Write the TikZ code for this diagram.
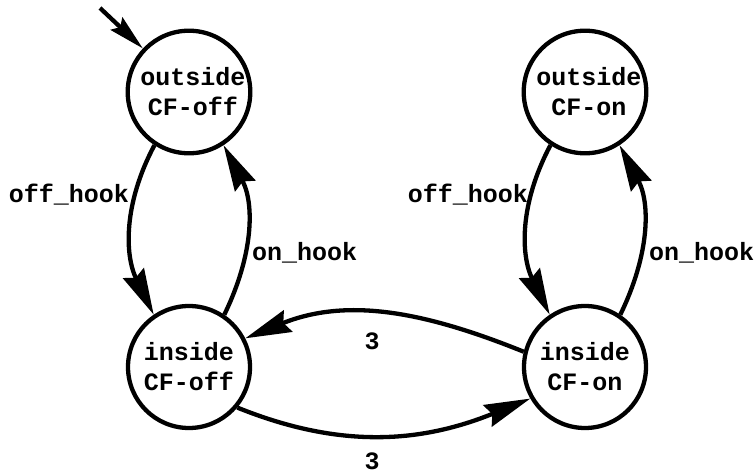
\documentclass[tikz,border=0pt]{standalone}
\usepackage{fontspec}
\setmainfont{Liberation Mono}
\usetikzlibrary{arrows.meta}
\newcommand\automfont{\bfseries\fontsize{25}{30}\selectfont}
\begin{document}
\begin{tikzpicture}[x=1pt,y=1pt,
  state/.style={circle,draw,line width=4.3pt,minimum size=122pt,inner sep=0pt,
                align=center,font=\automfont},
  trans/.style={line width=4.3pt,-{Stealth[length=46pt,width=23pt,inset=5pt]}},
  lbl/.style={inner sep=0pt,font=\automfont}]
\useasboundingbox (0,0) rectangle (755,-473);

% states
\node[state] (o1) at (189,-92)  {\hspace*{8pt}outside\\\hspace*{8pt}CF-off};
\node[state] (o2) at (585,-92)  {\hspace*{8pt}outside\\\hspace*{8pt}CF-on};
\node[state] (i1) at (189,-367) {inside\\CF-off};
\node[state] (i2) at (585,-367) {inside\\CF-on};

% initial state marker
\coordinate (init) at (100,-8);
\draw[trans,-{Stealth[length=36pt,width=17pt,inset=5pt]}] (init) -- (o1);

% hook transitions, CF off
\draw[trans] (o1.237) to[out=242,in=116] (i1.124);
\draw[trans] (i1.56) to[out=64,in=-62] (o1.303);

% hook transitions, CF on
\draw[trans] (o2.237) to[out=242,in=116] (i2.124);
\draw[trans] (i2.56) to[out=64,in=-62] (o2.303);

% feature-code transitions
\draw[trans] (i1.-40) to[out=-22,in=202] (i2.210);
\draw[trans] (i2.166) to[out=158,in=22] (i1.27);

% labels
\node[lbl,anchor=base east] (l1) at (129,-203) {off\_hook};
\node[lbl,anchor=base west] (l2) at (252,-261) {on\_hook};
\node[lbl,anchor=base east] (l3) at (528,-203) {off\_hook};
\node[lbl,anchor=base west] (l4) at (649,-261) {on\_hook};
\node[lbl,anchor=base] (l5) at (372,-349) {3};
\node[lbl,anchor=base] (l6) at (372,-469) {3};
\end{tikzpicture}
\end{document}
